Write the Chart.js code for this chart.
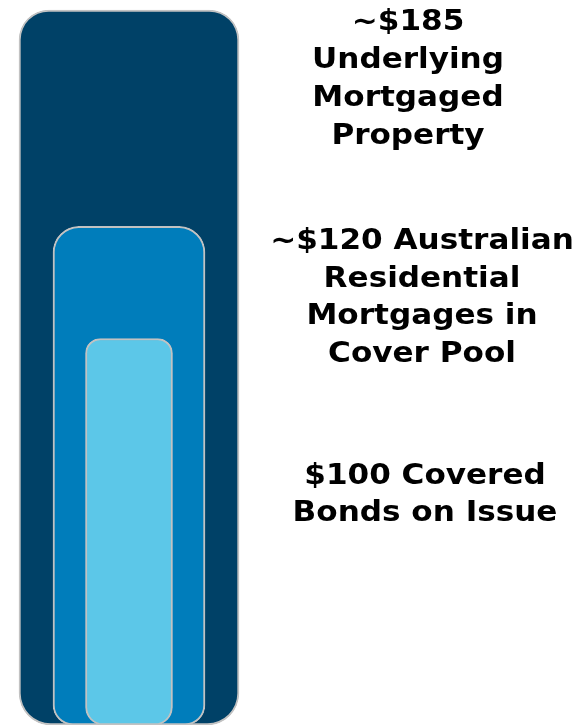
<!DOCTYPE html>
<html>
<head>
<meta charset="utf-8">
<script src="https://cdn.jsdelivr.net/npm/chart.js@4/dist/chart.umd.min.js"></script>
<style>
html,body{margin:0;padding:0;background:#fff;}
#wrap{width:581px;height:726px;position:relative;}
</style>
</head>
<body>
<div id="wrap"><canvas id="c" width="581" height="726"></canvas></div>
<script>
// Data
const categories = ['Cover'];
const seriesNames = ['Underlying Mortgaged Property', 'Australian Residential Mortgages in Cover Pool', 'Covered Bonds on Issue'];
const propertyValues = [185];
const mortgageValues = [129];
const bondValues = [100];
const labelLines = [
  ['~$185', 'Underlying', 'Mortgaged', 'Property'],
  ['~$120 Australian', 'Residential', 'Mortgages in', 'Cover Pool'],
  ['$100 Covered', 'Bonds on Issue']
];

const labelPlugin = {
  id: 'sideLabels',
  afterDraw(chart) {
    const ctx = chart.ctx;
    const blocks = [
      {x: 408, y: 30, step: 38},
      {x: 422, y: 249, step: 37.5},
      {x: 425, y: 483.5, step: 37}
    ];
    ctx.save();
    ctx.fillStyle = '#000';
    ctx.font = 'bold 28px "DejaVu Sans", Verdana, sans-serif';
    ctx.textAlign = 'center';
    ctx.textBaseline = 'alphabetic';
    labelLines.forEach((lines, i) => {
      const b = blocks[i];
      lines.forEach((t, j) => {
        ctx.save();
        ctx.translate(b.x, b.y + j * b.step);
        ctx.scale(1.11, 1);
        ctx.fillText(t, 0, 0);
        ctx.restore();
      });
    });
    ctx.restore();
  }
};

const edge = '#c2c2c2';
new Chart(document.getElementById('c'), {
  type: 'bar',
  data: {
    labels: categories,
    datasets: [
      {label: seriesNames[2], data: bondValues, backgroundColor: '#5cc7e8', borderColor: edge, borderWidth: 2, borderSkipped: false, barThickness: 87, borderRadius: {topLeft: 15, topRight: 15, bottomLeft: 18, bottomRight: 18}, grouped: false, order: 1},
      {label: seriesNames[1], data: mortgageValues, backgroundColor: '#007dbb', borderColor: edge, borderWidth: 2, borderSkipped: false, barThickness: 152, borderRadius: {topLeft: 26, topRight: 26, bottomLeft: 20, bottomRight: 20}, grouped: false, order: 2},
      {label: seriesNames[0], data: propertyValues, backgroundColor: '#004167', borderColor: edge, borderWidth: 2, borderSkipped: false, barThickness: 220, borderRadius: {topLeft: 30, topRight: 30, bottomLeft: 32, bottomRight: 32}, grouped: false, order: 3}
    ]
  },
  options: {
    responsive: false,
    animation: false,
    layout: {padding: {left: 0, right: 323, top: 0, bottom: 1}},
    plugins: {legend: {display: false}, tooltip: {enabled: false}, title: {display: false}},
    scales: {
      x: {display: false},
      y: {display: false, min: 0, max: 725 / (715 / 185), beginAtZero: true}
    }
  },
  plugins: [labelPlugin]
});
</script>
</body>
</html>
